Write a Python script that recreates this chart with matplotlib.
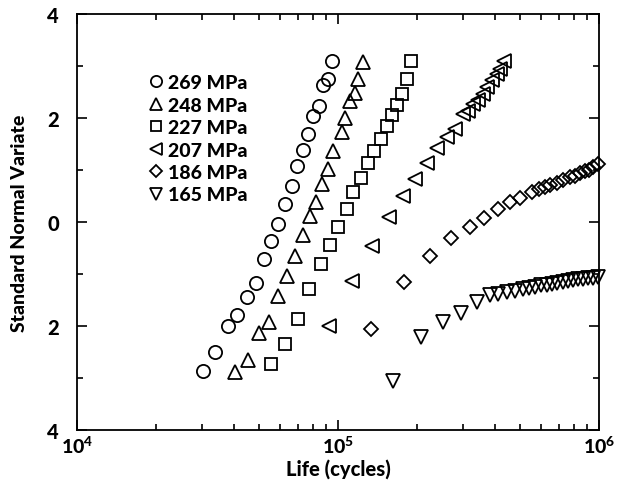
import matplotlib
matplotlib.use("Agg")
import matplotlib.pyplot as plt
from matplotlib.ticker import FixedLocator, LogLocator, NullFormatter, FixedFormatter

plt.rcParams['font.family'] = ['Lato', 'DejaVu Sans']
plt.rcParams['font.weight'] = 'black'
plt.rcParams['mathtext.fontset'] = 'custom'
plt.rcParams['mathtext.rm'] = 'Lato:black'
plt.rcParams['mathtext.bf'] = 'Lato:black'

# ---- data (life in cycles, standard normal variate) ----
life_269 = [30400, 33880, 37800, 41140, 44690, 48380, 51930, 55380, 59060, 62650,
            66470, 69470, 73240, 76950, 80430, 84800, 87840, 91300, 94600]
snv_269 = [-2.87, -2.49, -1.99, -1.79, -1.45, -1.17, -0.71, -0.36, -0.03, 0.35,
           0.69, 1.08, 1.38, 1.69, 2.03, 2.24, 2.63, 2.75, 3.09]

life_248 = [40420, 45080, 49810, 54560, 59060, 63590, 68430, 73240, 78110, 82360,
            87060, 91800, 95950, 103300, 106400, 111200, 116200, 119600, 124300]
snv_248 = [-2.88, -2.65, -2.13, -1.92, -1.42, -1.03, -0.65, -0.25, 0.12, 0.39,
           0.73, 1.02, 1.37, 1.73, 2.01, 2.33, 2.49, 2.75, 3.07]

life_227 = [55380, 62820, 70090, 77630, 86080, 93180, 100300, 108000, 114500, 122500,
            130700, 137800, 146200, 153700, 160600, 167900, 175400, 183400, 190400]
snv_227 = [-2.73, -2.35, -1.87, -1.29, -0.81, -0.44, -0.09, 0.26, 0.57, 0.84,
           1.13, 1.37, 1.60, 1.85, 2.06, 2.25, 2.46, 2.75, 3.10]

life_207 = [92610, 113600, 134600, 157300, 177000, 197200, 219300, 238900, 261000, 280800,
            302100, 315700, 328200, 344800, 358500, 371300, 388100, 405500, 417500, 433800]
snv_207 = [-1.99, -1.13, -0.46, 0.09, 0.51, 0.83, 1.13, 1.42, 1.63, 1.79,
           2.08, 2.14, 2.27, 2.35, 2.46, 2.59, 2.73, 2.85, 2.94, 3.09]

life_186 = [133800, 179000, 225100, 271000, 320400, 363600, 409200, 456000, 498100, 552300,
            590600, 621100, 649200, 692200, 729800, 774300, 809200, 845700, 883800, 918000,
            951000, 993800]
snv_186 = [-2.06, -1.16, -0.65, -0.31, -0.09, 0.07, 0.25, 0.38, 0.46, 0.57,
           0.63, 0.67, 0.71, 0.76, 0.81, 0.86, 0.89, 0.94, 0.99, 1.01,
           1.05, 1.12]

life_165 = [162900, 207500, 251800, 295200, 340000, 382300, 411400, 443100, 476800, 510300,
            540800, 568700, 597900, 630400, 658900, 692200, 729800, 762800, 797200, 833100,
            870600, 910000, 951000, 993800]
snv_165 = [-3.05, -2.22, -1.93, -1.74, -1.53, -1.40, -1.38, -1.35, -1.32, -1.29,
           -1.27, -1.24, -1.22, -1.21, -1.19, -1.18, -1.16, -1.13, -1.12, -1.10,
           -1.10, -1.08, -1.08, -1.06]

labels = ['269 MPa', '248 MPa', '227 MPa', '207 MPa', '186 MPa', '165 MPa']
y_ticks = [4, 2, 0, -2, -4]
y_tick_labels = ['4', '2', '0', '2', '4']

series = [(life_269, snv_269, 'o', 9.5),
          (life_248, snv_248, '^', 10.0),
          (life_227, snv_227, 's', 8.0),
          (life_207, snv_207, '<', 10.0),
          (life_186, snv_186, 'D', 6.8),
          (life_165, snv_165, 'v', 10.0)]

fig = plt.figure(figsize=(6.24, 4.85), dpi=100)
ax = fig.add_axes([0.1234, 0.1113, 0.8365, 0.8577])

for (x, y, m, ms), lab in zip(series, labels):
    ax.plot(x, y, linestyle='none', marker=m, markersize=ms, markerfacecolor='none',
            markeredgecolor='black', markeredgewidth=1.3, label=lab, clip_on=False)

ax.set_xscale('log')
ax.set_xlim(1e4, 1e6)
ax.set_ylim(-4, 4)

ax.xaxis.set_major_locator(FixedLocator([1e4, 1e5, 1e6]))
ax.xaxis.set_major_formatter(FixedFormatter([r'$\mathbf{10^{4}}$', r'$\mathbf{10^{5}}$', r'$\mathbf{10^{6}}$']))
ax.xaxis.set_minor_locator(LogLocator(base=10, subs=range(2, 10)))
ax.xaxis.set_minor_formatter(NullFormatter())

ax.yaxis.set_major_locator(FixedLocator(y_ticks))
ax.yaxis.set_major_formatter(FixedFormatter(y_tick_labels))
ax.yaxis.set_minor_locator(FixedLocator([3, 1, -1, -3]))

ax.tick_params(which='both', direction='in', top=True, right=True, width=1.2)
ax.tick_params(which='major', length=7)
ax.tick_params(axis='y', which='major', pad=13, labelsize=14.5)
ax.tick_params(axis='x', which='major', pad=3, labelsize=14)
ax.tick_params(which='minor', length=4)
for lbl in ax.get_yticklabels() + ax.get_xticklabels():
    lbl.set_fontweight('black')
for sp in ax.spines.values():
    sp.set_linewidth(1.3)

ax.set_xlabel('Life (cycles)', fontsize=14.5, fontweight='black', labelpad=2)
ax.set_ylabel('Standard Normal Variate', fontsize=14, fontweight='black', labelpad=14)

leg = ax.legend(loc='upper left', bbox_to_anchor=(0.117, 0.874), frameon=False,
                handletextpad=0.15, handlelength=1.0, labelspacing=0.28,
                borderaxespad=0, prop={'size': 14, 'weight': 'black'}, markerscale=0.85)

fig.savefig('out.png', dpi=100)
